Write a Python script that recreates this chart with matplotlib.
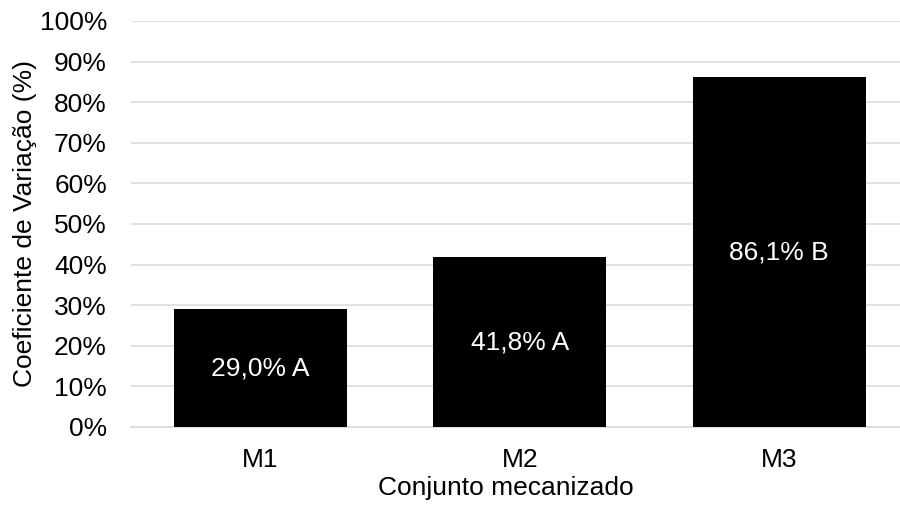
import matplotlib
matplotlib.use("Agg")
import matplotlib.pyplot as plt

# dados
categorias = ["M1", "M2", "M3"]
valores = [29.0, 41.8, 86.1]
letras = ["A", "A", "B"]
yticks = list(range(0, 101, 10))

plt.rcParams['font.family'] = ['Liberation Sans', 'DejaVu Sans']

fig = plt.figure(figsize=(9, 5.05), dpi=100)
ax = fig.add_axes([0.145, 0.1545, 0.865, 0.804])

x = range(len(categorias))
ax.bar(x, valores, width=0.667, color='black', zorder=3)

# rotulos dentro das barras
for i, v in enumerate(valores):
    txt = f"{v:.1f}".replace(".", ",") + "% " + letras[i]
    ax.text(i, v / 2, txt, ha='center', va='center', color='white', fontsize=19, zorder=4)

ax.set_xlim(-0.5, len(categorias) - 0.5)
ax.set_ylim(0, 100)
ax.set_yticks(yticks)
ax.set_yticklabels([f"{t}%" for t in yticks])
ax.set_xticks(list(x))
ax.set_xticklabels(categorias)
ax.tick_params(axis='y', length=0, pad=17, labelsize=19)
ax.tick_params(axis='x', length=0, pad=15, labelsize=19)

ax.grid(axis='y', color='#d9d9d9', linewidth=1.1, zorder=0)
for s in ['top', 'right', 'left']:
    ax.spines[s].set_visible(False)
ax.spines['bottom'].set_color('#d9d9d9')
ax.spines['bottom'].set_linewidth(1.1)

ax.set_ylabel("Coeficiente de Variação (%)", fontsize=19, labelpad=2)
fig.text(506 / 900, 1 - 488 / 505, "Conjunto mecanizado", ha='center', va='center', fontsize=19)

fig.savefig("out.png", dpi=100)
